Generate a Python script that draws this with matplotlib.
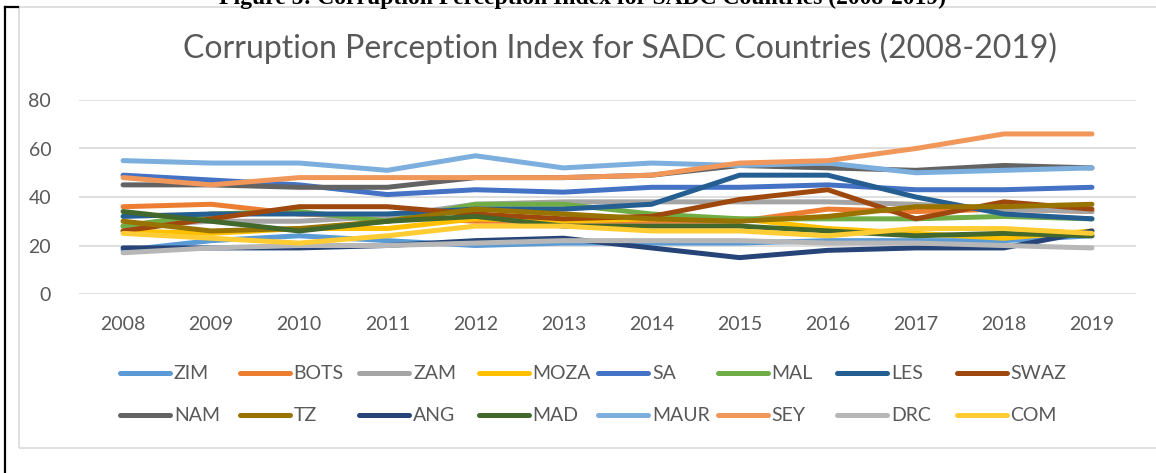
import matplotlib.pyplot as plt
from matplotlib.lines import Line2D
from matplotlib.patches import Rectangle

plt.rcParams['font.family'] = ['Lato', 'DejaVu Sans']

# CPI scores
years = [2008, 2009, 2010, 2011, 2012, 2013, 2014, 2015, 2016, 2017, 2018, 2019]
ZIM = [18, 22, 24, 22, 20, 21, 21, 21, 22, 22, 22, 24]
BOTS = [36, 37, 33, 32, 30, 30, 30, 30, 35, 34, 35, 34]
ZAM = [28, 30, 30, 32, 37, 38, 38, 38, 38, 37, 35, 34]
MOZA = [26, 25, 27, 27, 31, 30, 31, 31, 27, 25, 23, 26]
SA = [49, 47, 45, 41, 43, 42, 44, 44, 45, 43, 43, 44]
MAL = [28, 33, 34, 30, 37, 37, 33, 31, 31, 31, 32, 31]
LES = [32, 33, 33, 33, 35, 35, 37, 49, 49, 40, 33, 31]
SWAZ = [26, 31, 36, 36, 33, 31, 32, 39, 43, 31, 38, 35]
NAM = [45, 45, 44, 44, 48, 48, 49, 53, 52, 51, 53, 52]
TZ = [30, 26, 27, 30, 35, 33, 31, 30, 32, 36, 36, 37]
ANG = [19, 19, 19, 20, 22, 23, 19, 15, 18, 19, 19, 26]
MAD = [34, 30, 26, 30, 32, 28, 28, 28, 26, 24, 25, 24]
MAUR = [55, 54, 54, 51, 57, 52, 54, 53, 54, 50, 51, 52]
SEY = [48, 45, 48, 48, 48, 48, 49, 54, 55, 60, 66, 66]
DRC = [17, 19, 20, 20, 21, 22, 22, 22, 21, 21, 20, 19]
COM = [25, 23, 21, 24, 28, 28, 26, 26, 24, 27, 27, 25]

names = ['ZIM', 'BOTS', 'ZAM', 'MOZA', 'SA', 'MAL', 'LES', 'SWAZ',
         'NAM', 'TZ', 'ANG', 'MAD', 'MAUR', 'SEY', 'DRC', 'COM']
series = [ZIM, BOTS, ZAM, MOZA, SA, MAL, LES, SWAZ,
          NAM, TZ, ANG, MAD, MAUR, SEY, DRC, COM]
colors = ['#5B9BD5', '#ED7D31', '#A5A5A5', '#FFC000', '#4472C4', '#70AD47',
          '#255E91', '#9E480E', '#636363', '#997300', '#264478', '#43682B',
          '#7CAFDD', '#F1975A', '#B7B7B7', '#FFCD33']

W, H = 1156, 473
fig = plt.figure(figsize=(W / 100, H / 100), dpi=100)
text_col = '#595959'

# chart frame and the page border line on the left
fig.patches.append(Rectangle((19 / W, 1 - 448 / H), 1.2, (448 - 7) / H,
                             transform=fig.transFigure, fill=False,
                             edgecolor='#D9D9D9', lw=1.2))
fig.lines.append(Line2D([5 / W, 5 / W], [0, 1 - 7 / H], transform=fig.transFigure,
                        color='black', lw=1.6))
fig.lines.append(Line2D([5 / W, 18 / W], [1 - 7 / H, 1 - 7 / H],
                        transform=fig.transFigure, color='black', lw=1.6))

# document caption, cut by the top edge like in the source screenshot
fig.text(582 / W, 1 - 4 / H,
         'Figure 5: Corruption Perception Index for SADC Countries (2008-2019)',
         ha='center', va='baseline', fontsize=17, fontweight='bold',
         family=['Liberation Serif', 'DejaVu Serif'], color='black')

ax = fig.add_axes([79 / W, 1 - 294 / H, (1136 - 79) / W, (294 - 100) / H])
x = list(range(len(years)))
for name, vals, c in zip(names, series, colors):
    ax.plot(x, vals, color=c, lw=3.6, solid_capstyle='round',
            solid_joinstyle='round', label=name, clip_on=False)

ax.set_xlim(-0.5, len(years) - 0.5)
ax.set_ylim(0, 80)
ax.set_yticks([0, 20, 40, 60, 80])
ax.set_xticks(x)
ax.set_xticklabels([str(y) for y in years])
ax.tick_params(length=0, labelsize=14, labelcolor=text_col)
ax.tick_params(axis='x', pad=16)
ax.tick_params(axis='y', pad=20)
ax.grid(axis='y', color='#D9D9D9', lw=1.2)
ax.set_axisbelow(True)
for s in ax.spines.values():
    s.set_visible(False)

fig.text(620 / W, 1 - 48 / H,
         'Corruption Perception Index for SADC Countries (2008-2019)',
         ha='center', va='center', fontsize=23, color=text_col)

# legend laid out like the Excel one: 8 equal columns, 2 rows
for i, (name, c) in enumerate(zip(names, colors)):
    col, row = i % 8, i // 8
    x0 = 120 + 119.5 * col
    yy = 1 - (373 + 42 * row) / H
    fig.lines.append(Line2D([x0 / W, (x0 + 50) / W], [yy, yy],
                            transform=fig.transFigure, color=c, lw=3.6,
                            solid_capstyle='round'))
    fig.text((x0 + 54) / W, yy, name, ha='left', va='center',
             fontsize=14, color=text_col)

fig.savefig('out.png', dpi=100)
